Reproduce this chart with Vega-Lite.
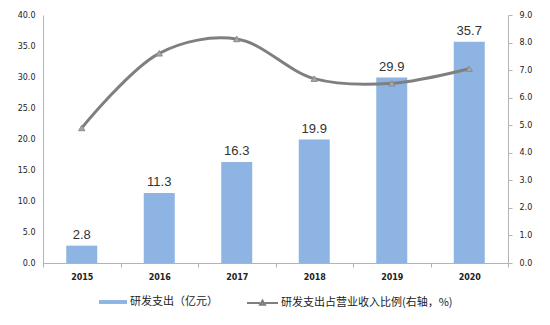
{
  "$schema": "https://vega.github.io/schema/vega-lite/v6.json",
  "width": 465,
  "height": 248,
  "autosize": {"type": "none"},
  "padding": {"left": 43, "top": 15, "right": 42, "bottom": 62},
  "background": "#ffffff",
  "config": {
    "view": {"stroke": null},
    "axis": {"grid": false, "domainColor": "#B3B3B3", "tickColor": "#B3B3B3", "labelColor": "#222222", "labelFont": "DejaVu Sans", "labelFontSize": 8, "title": null},
    "legend": {"orient": "none", "padding": 0, "labelFont": "Noto Sans CJK SC", "labelFontSize": 11, "labelColor": "#222222", "labelLimit": 0, "title": null}
  },
  "data": {
    "values": [
      {"year": "2015", "rd": 2.8, "ratio": 4.90},
      {"year": "2016", "rd": 11.3, "ratio": 7.61},
      {"year": "2017", "rd": 16.3, "ratio": 8.13},
      {"year": "2018", "rd": 19.9, "ratio": 6.69},
      {"year": "2019", "rd": 29.9, "ratio": 6.52},
      {"year": "2020", "rd": 35.7, "ratio": 7.05}
    ]
  },
  "encoding": {
    "x": {
      "field": "year",
      "type": "nominal",
      "scale": {"paddingInner": 0, "paddingOuter": 0},
      "axis": {"labelAngle": 0, "labelFontWeight": "bold", "tickBand": "extent", "ticks": true, "tickSize": 4, "labelPadding": 6}
    }
  },
  "layer": [
    {
      "encoding": {
        "y": {
          "field": "rd",
          "type": "quantitative",
          "scale": {"domain": [0, 40]},
          "axis": {"orient": "left", "values": [0, 5, 10, 15, 20, 25, 30, 35, 40], "format": ".1f", "ticks": false, "labelPadding": 8}
        }
      },
      "layer": [
        {
          "mark": {"type": "bar", "width": {"band": 0.4}},
          "encoding": {
            "fill": {
              "datum": "研发支出（亿元）",
              "scale": {"range": ["#8EB4E3"]},
              "legend": {"legendX": 56, "legendY": 273, "symbolType": "M-1,-0.14H1V0.14H-1Z", "symbolSize": 784, "symbolStrokeWidth": 0, "labelOffset": 3}
            }
          }
        },
        {
          "mark": {"type": "text", "dy": -11, "font": "Liberation Sans", "fontSize": 13, "color": "#333333"},
          "encoding": {"text": {"field": "rd", "type": "quantitative", "format": ".1f"}}
        }
      ]
    },
    {
      "encoding": {
        "y": {
          "field": "ratio",
          "type": "quantitative",
          "scale": {"domain": [0, 9]},
          "axis": {"orient": "right", "values": [0, 1, 2, 3, 4, 5, 6, 7, 8, 9], "format": ".1f", "tickSize": 4, "labelPadding": 7}
        }
      },
      "layer": [
        {
          "mark": {"type": "line", "interpolate": "catmull-rom", "strokeWidth": 3},
          "encoding": {
            "stroke": {
              "datum": "研发支出占营业收入比例(右轴，%)",
              "scale": {"range": ["#7F7F7F"]},
              "legend": {
                "legendX": 203,
                "legendY": 271.5,
                "symbolType": "M-1,0H-0.16M0.16,0H1M-0.16,0.12L0,-0.15L0.16,0.12Z",
                "symbolSize": 961,
                "symbolStrokeWidth": 2,
                "labelOffset": 2,
                "encode": {"symbols": {"update": {"fill": {"value": "#A6A6A6"}}}}
              }
            }
          }
        },
        {
          "mark": {"type": "point", "shape": "triangle-up", "size": 40, "filled": true, "fill": "#A6A6A6", "stroke": "#8C8C8C", "strokeWidth": 1, "opacity": 1}
        }
      ]
    }
  ],
  "resolve": {"scale": {"y": "independent"}}
}
